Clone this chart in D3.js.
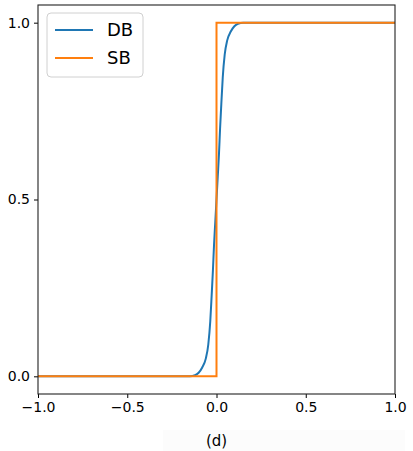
<!DOCTYPE html>
<html>
<head>
<meta charset="utf-8">
<script src="https://cdn.jsdelivr.net/npm/d3@7"></script>
<style>
  body { margin: 0; background: #fff; }
  text { font-family: 'DejaVu Sans', sans-serif; fill: #000; }
</style>
</head>
<body>
<div id="chart"></div>
<script>
const WIDTH = 413;
const HEIGHT = 451;
const MARGINS = { TOP: 5, LEFT: 38, BOTTOM: 57, RIGHT: 18 };

// DB curve
const dbX = [-1, -0.15, -0.12, -0.1, -0.08, -0.06, -0.046, -0.035, -0.027, -0.02, -0.014, -0.007, 0,
    0.007, 0.014, 0.02, 0.027, 0.035, 0.046, 0.06, 0.08, 0.1, 0.12, 0.15, 1];
const dbY = [0, 0, 0.003, 0.01, 0.025, 0.05, 0.09, 0.155, 0.23, 0.3, 0.37, 0.435, 0.5,
    0.565, 0.63, 0.7, 0.77, 0.845, 0.91, 0.95, 0.975, 0.99, 0.997, 1, 1];
// SB step
const sbX = [-1, 0, 0, 1];
const sbY = [0, 0, 1, 1];

const xTicks = [-1, -0.5, 0, 0.5, 1];
const yTicks = [0, 0.5, 1];
const seriesNames = ['DB', 'SB'];
const colors = ['#1f77b4', '#ff7f0e'];
const xLabel = '(d)';

const innerW = WIDTH - MARGINS.LEFT - MARGINS.RIGHT;
const innerH = HEIGHT - MARGINS.TOP - MARGINS.BOTTOM;

let svg = d3.select('#chart')
    .append('svg')
    .attr('width', WIDTH)
    .attr('height', HEIGHT);

let x = d3.scaleLinear().domain([-1, 1]).range([MARGINS.LEFT, MARGINS.LEFT + innerW]);
let y = d3.scaleLinear().domain([-0.05, 1.05]).range([MARGINS.TOP + innerH, MARGINS.TOP]);

const fmt = d => d3.format('.1f')(d).replace('-', '\u2212');

// axes
svg.append('g')
    .attr('transform', `translate(0, ${MARGINS.TOP + innerH})`)
    .call(d3.axisBottom(x).tickValues(xTicks).tickFormat(fmt).tickSize(4).tickPadding(4))
    .call(g => g.select('.domain').remove())
    .call(g => g.selectAll('text').style('font-size', '14px'));

svg.append('g')
    .attr('transform', `translate(${MARGINS.LEFT}, 0)`)
    .call(d3.axisLeft(y).tickValues(yTicks).tickFormat(fmt).tickSize(4).tickPadding(4))
    .call(g => g.select('.domain').remove())
    .call(g => g.selectAll('text').style('font-size', '14px'));

// lines
let line = d3.line().x(d => x(d[0])).y(d => y(d[1]));

svg.append('path')
    .datum(dbX.map((v, i) => [v, dbY[i]]))
    .attr('fill', 'none')
    .attr('stroke', colors[0])
    .attr('stroke-width', 2)
    .attr('d', line.curve(d3.curveMonotoneX));

svg.append('path')
    .datum(sbX.map((v, i) => [v, sbY[i]]))
    .attr('fill', 'none')
    .attr('stroke', colors[1])
    .attr('stroke-width', 2)
    .attr('d', d3.line().x(d => x(d[0])).y(d => y(d[1]))(sbX.map((v, i) => [v, sbY[i]])));

// frame
svg.append('rect')
    .attr('x', MARGINS.LEFT)
    .attr('y', MARGINS.TOP)
    .attr('width', innerW)
    .attr('height', innerH)
    .attr('fill', 'none')
    .attr('stroke', '#222')
    .attr('stroke-width', 1.1);

// legend
let legend = svg.append('g').attr('transform', 'translate(47, 13)');
legend.append('rect')
    .attr('width', 96)
    .attr('height', 64)
    .attr('rx', 4)
    .attr('fill', 'rgba(255,255,255,0.8)')
    .attr('stroke', '#d0d0d0');

seriesNames.forEach((name, i) => {
    let row = legend.append('g').attr('transform', `translate(0, ${17 + i * 28})`);
    row.append('line')
        .attr('x1', 8).attr('x2', 46)
        .attr('stroke', colors[i])
        .attr('stroke-width', 2);
    row.append('text')
        .attr('x', 60)
        .attr('y', 6)
        .style('font-size', '18px')
        .text(name);
});

// x label (covered by a faint box in the picture)
svg.append('rect')
    .attr('x', 163).attr('y', 430)
    .attr('width', 242).attr('height', 21)
    .attr('fill', '#fcfcfc');

svg.append('text')
    .attr('x', x(0))
    .attr('y', 446)
    .attr('text-anchor', 'middle')
    .style('font-size', '15px')
    .text(xLabel);
</script>
</body>
</html>
